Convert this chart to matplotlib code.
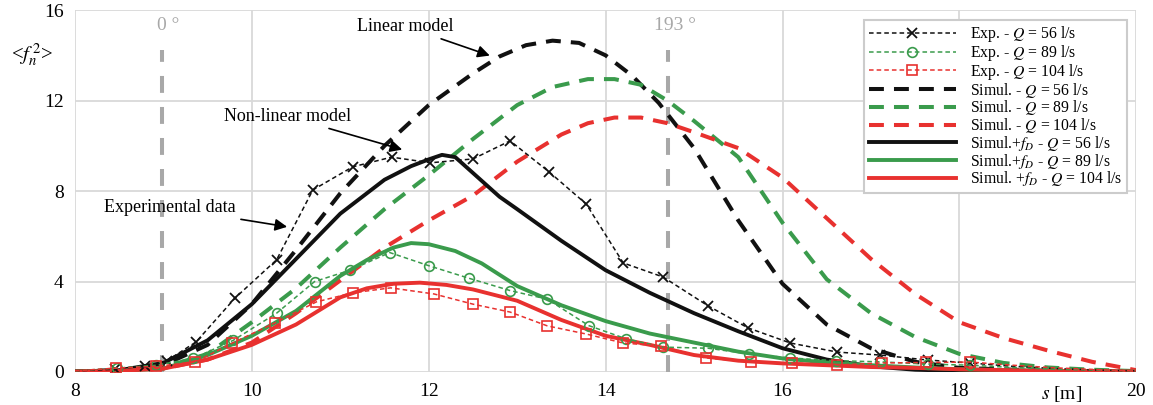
import matplotlib
matplotlib.use('Agg')
import matplotlib.pyplot as plt

plt.rcParams['font.family'] = ['Liberation Serif', 'DejaVu Serif']
plt.rcParams['mathtext.fontset'] = 'stix'

BLACK = '#111111'
GREEN = '#3a9b4c'
RED = '#e8312f'
GRAY = '#a8a8a8'

# experimental data (markers)
s_exp56 = [8.0, 8.45, 8.79, 9.04, 9.37, 9.81, 10.28, 10.69, 11.14, 11.58, 12.02, 12.5, 12.92, 13.36,
           13.78, 14.2, 14.65, 15.16, 15.61, 16.09, 16.62, 17.1, 17.64, 18.12, 18.6, 19.1, 19.6, 20.0]
y_exp56 = [0.05, 0.12, 0.27, 0.5, 1.33, 3.27, 4.96, 8.05, 9.07, 9.5, 9.25, 9.42, 10.22, 8.85,
           7.43, 4.82, 4.2, 2.92, 1.95, 1.28, 0.88, 0.75, 0.53, 0.4, 0.25, 0.15, 0.08, 0.05]
s_exp89 = [8.0, 8.47, 8.92, 9.34, 9.79, 10.28, 10.71, 11.11, 11.56, 12.0, 12.45, 12.92, 13.34, 13.81,
           14.23, 14.65, 15.16, 15.62, 16.09, 16.6, 17.1, 17.64, 18.12, 18.6, 19.1, 19.6, 20.0]
y_exp89 = [0.05, 0.17, 0.3, 0.6, 1.4, 2.6, 4.0, 4.5, 5.28, 4.7, 4.15, 3.6, 3.22, 2.05,
           1.47, 1.1, 1.05, 0.8, 0.62, 0.5, 0.45, 0.35, 0.3, 0.2, 0.12, 0.08, 0.05]
s_exp104 = [8.0, 8.46, 8.92, 9.36, 9.78, 10.26, 10.73, 11.14, 11.57, 12.06, 12.5, 12.92, 13.34, 13.78,
            14.2, 14.63, 15.13, 15.64, 16.11, 16.62, 17.13, 17.62, 18.12, 18.6, 19.1, 19.6, 20.0]
y_exp104 = [0.05, 0.17, 0.25, 0.44, 1.28, 2.17, 3.1, 3.5, 3.72, 3.45, 3.0, 2.65, 2.04, 1.68,
            1.28, 1.15, 0.62, 0.45, 0.4, 0.31, 0.4, 0.42, 0.44, 0.3, 0.18, 0.1, 0.05]

# linear model (dashed)
s_lin56 = [8.0, 8.5, 9.0, 9.5, 10.0, 10.5, 11.0, 11.5, 12.0, 12.5, 12.8, 13.1, 13.4, 13.7, 14.0,
           14.3, 14.6, 15.0, 15.5, 16.0, 16.5, 17.0, 17.5, 18.0, 19.0, 20.0]
y_lin56 = [0.02, 0.08, 0.3, 1.2, 3.0, 5.4, 7.9, 10.0, 11.8, 13.2, 13.95, 14.45, 14.65, 14.55, 14.0,
           13.1, 11.9, 9.9, 6.7, 3.9, 2.1, 1.05, 0.45, 0.18, 0.05, 0.0]
s_lin89 = [8.0, 8.5, 9.0, 9.5, 10.0, 10.5, 11.0, 11.5, 12.0, 12.5, 13.0, 13.4, 13.8, 14.1, 14.4,
           14.7, 15.0, 15.5, 16.0, 16.5, 17.0, 17.5, 18.0, 18.5, 19.0, 19.5, 20.0]
y_lin89 = [0.02, 0.06, 0.2, 0.8, 2.2, 3.7, 5.5, 7.2, 8.7, 10.3, 11.8, 12.6, 12.95, 12.95, 12.7,
           12.0, 11.1, 9.5, 6.6, 4.1, 2.6, 1.55, 0.8, 0.4, 0.2, 0.1, 0.04]
s_lin104 = [8.0, 8.5, 9.0, 9.5, 10.0, 10.5, 11.0, 11.5, 12.0, 12.5, 13.0, 13.5, 13.8, 14.1, 14.4,
            14.7, 15.0, 15.5, 16.0, 16.5, 17.0, 17.5, 18.0, 18.5, 19.0, 19.5, 20.0]
y_lin104 = [0.01, 0.05, 0.15, 0.55, 1.3, 2.6, 4.05, 5.5, 6.7, 7.8, 9.3, 10.5, 11.0, 11.25, 11.25,
            11.0, 10.6, 9.9, 8.6, 6.8, 5.0, 3.45, 2.2, 1.5, 0.95, 0.45, 0.08]

# non-linear model (solid)
s_nl56 = [8.0, 8.5, 9.0, 9.5, 10.0, 10.5, 11.0, 11.5, 11.8, 12.0, 12.15, 12.3, 12.5, 12.8, 13.0,
          13.5, 14.0, 14.5, 15.0, 15.5, 16.0, 16.5, 17.0, 17.5, 18.0, 20.0]
y_nl56 = [0.02, 0.08, 0.4, 1.4, 3.0, 5.0, 7.0, 8.5, 9.1, 9.4, 9.6, 9.5, 8.8, 7.75, 7.2,
          5.8, 4.5, 3.5, 2.6, 1.8, 1.05, 0.55, 0.25, 0.1, 0.05, 0.0]
s_nl89 = [8.0, 8.5, 9.0, 9.5, 10.0, 10.5, 11.0, 11.3, 11.6, 11.8, 12.0, 12.3, 12.6, 13.0, 13.5,
          14.0, 14.5, 15.0, 15.5, 16.0, 16.5, 17.0, 17.5, 18.0, 19.0, 20.0]
y_nl89 = [0.02, 0.05, 0.15, 0.75, 1.6, 2.7, 4.25, 4.95, 5.5, 5.7, 5.65, 5.35, 4.8, 3.8, 2.95,
          2.25, 1.7, 1.3, 0.9, 0.6, 0.42, 0.3, 0.2, 0.12, 0.05, 0.02]
s_nl104 = [8.0, 8.5, 9.0, 9.5, 10.0, 10.5, 11.0, 11.3, 11.6, 11.9, 12.2, 12.5, 13.0, 13.5, 14.0,
           14.5, 15.0, 15.5, 16.0, 16.5, 17.0, 17.5, 18.0, 19.0, 20.0]
y_nl104 = [0.02, 0.05, 0.15, 0.55, 1.2, 2.1, 3.3, 3.7, 3.9, 3.95, 3.85, 3.65, 3.15, 2.3, 1.6,
           1.2, 0.75, 0.5, 0.38, 0.3, 0.22, 0.18, 0.12, 0.05, 0.02]

s_deg = [8.98, 14.71]
deg_labels = ['0 °', '193 °']

fig = plt.figure(figsize=(11.53, 4.05), dpi=100)
ax = fig.add_axes([0.065, 0.0815, 0.9205, 0.8935])

for s in s_deg:
    ax.plot([s, s], [0, 14.25], color=GRAY, lw=2.9, ls=(0, (4.2, 3.5)), zorder=1)
for s, t in zip(s_deg, deg_labels):
    ax.text(s + 0.07, 15.3, t, color=GRAY, fontsize=14, ha='center', va='center')

exp_dash = (0, (3, 2))
n56 = s_exp56.index(18.12) + 1
n89 = s_exp89.index(18.12) + 1
n104 = s_exp104.index(18.12) + 1
ax.plot(s_exp56, y_exp56, color=BLACK, lw=1.1, ls=exp_dash, marker='x', ms=7, mew=1.3,
        markevery=list(range(1, n56)), label='Exp. - $Q$ = 56 l/s', zorder=4)
ax.plot(s_exp89, y_exp89, color=GREEN, lw=1.1, ls=exp_dash, marker='o', ms=7, mew=1.2, mfc='none',
        markevery=list(range(1, n89)), label='Exp. - $Q$ = 89 l/s', zorder=4)
ax.plot(s_exp104, y_exp104, color=RED, lw=1.1, ls=exp_dash, marker='s', ms=7, mew=1.2, mfc='none',
        markevery=list(range(1, n104)), label='Exp. - $Q$ = 104 l/s', zorder=4)

lin_dash = (0, (3.7, 2.5))
ax.plot(s_lin56, y_lin56, color=BLACK, lw=2.9, ls=lin_dash, label='Simul. - $Q$ = 56 l/s', zorder=3)
ax.plot(s_lin89, y_lin89, color=GREEN, lw=2.9, ls=lin_dash, label='Simul. - $Q$ = 89 l/s', zorder=3)
ax.plot(s_lin104, y_lin104, color=RED, lw=2.9, ls=lin_dash, label='Simul. - $Q$ = 104 l/s', zorder=3)

ax.plot(s_nl56, y_nl56, color=BLACK, lw=2.8, solid_joinstyle='round', label='Simul.+$f_D$ - $Q$ = 56 l/s', zorder=3)
ax.plot(s_nl89, y_nl89, color=GREEN, lw=2.8, solid_joinstyle='round', label='Simul.+$f_D$ - $Q$ = 89 l/s', zorder=3)
ax.plot(s_nl104, y_nl104, color=RED, lw=2.8, solid_joinstyle='round', label='Simul. +$f_D$ - $Q$ = 104 l/s', zorder=3)

ax.set_xlim(8, 20)
ax.set_ylim(0, 16)
ax.set_xticks(range(8, 21, 2))
ax.set_yticks(range(0, 17, 4))
ax.grid(True, color='#d9d9d9', lw=1.3, zorder=0)
ax.set_axisbelow(True)
for sp in ax.spines.values():
    sp.set_visible(False)
ax.tick_params(length=0, labelsize=14, pad=8)

ax.text(-0.04, 0.876, r'<$f_n^{\,2}$>', transform=ax.transAxes, fontsize=15, ha='center', va='center')
ax.text(0.93, -0.06, '$s$ [m]', transform=ax.transAxes, fontsize=14, ha='center', va='center')

arrow = dict(arrowstyle='-|>', color='black', lw=1.2, mutation_scale=18)
ax.annotate('Linear model', xy=(12.72, 13.95), xytext=(11.74, 15.27), fontsize=13,
            ha='center', va='center', arrowprops=arrow)
ax.annotate('Non-linear model', xy=(11.73, 9.8), xytext=(10.4, 11.3), fontsize=13,
            ha='center', va='center', arrowprops=arrow)
ax.annotate('Experimental data', xy=(10.43, 6.4), xytext=(9.07, 7.26), fontsize=13,
            ha='center', va='center', arrowprops=arrow)

leg = ax.legend(loc='upper right', bbox_to_anchor=(0.9985, 0.995), fontsize=11.3, frameon=True,
                fancybox=False, edgecolor='#cccccc', framealpha=1, handlelength=5.5,
                labelspacing=-0.08, borderpad=0.3, handletextpad=0.9)
leg.get_frame().set_linewidth(1.5)

fig.savefig('out.png', dpi=100)
